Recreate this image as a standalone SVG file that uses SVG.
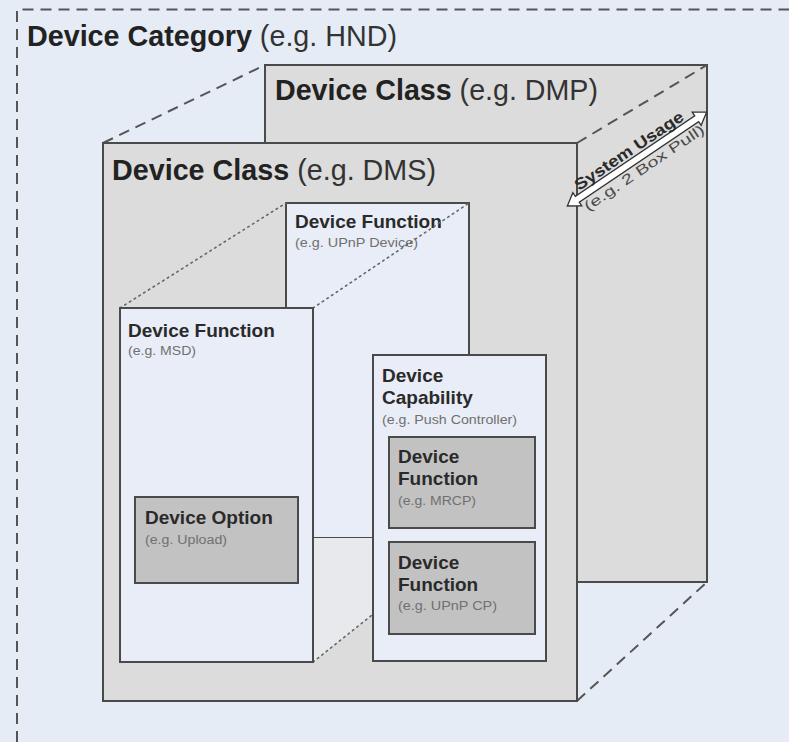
<svg xmlns="http://www.w3.org/2000/svg" width="789" height="742" viewBox="0 0 789 742">
<style>
.bg{fill:#E6ECF6}
.cls{fill:#DCDCDC;stroke:#4A4A4A;stroke-width:2}
.fn{fill:#E8EDF7;stroke:#4A4A4A;stroke-width:2}
.opt{fill:#C2C2C2;stroke:#4A4A4A;stroke-width:2}
.dash{fill:none;stroke:#555;stroke-width:2;stroke-dasharray:11 7}
.dot{fill:none;stroke:#666;stroke-width:1.6;stroke-dasharray:1.6 4;stroke-linecap:round}
text{font-family:"Liberation Sans",Arial,sans-serif}
.big{font-size:30px;fill:#222}
.b{font-weight:bold}
.r{fill:#333}
.h{font-size:19px;font-weight:bold;fill:#2A2A2A}
.s{font-size:12px;fill:#707070}
</style>
<defs>
<clipPath id="dmpClip"><rect x="265" y="65" width="442" height="517"/></clipPath>
</defs>
<rect class="bg" x="0" y="0" width="789" height="742"/>
<g id="category">
<path class="dash" d="M17 742 V9.5 H789"/>
<text class="big" x="27" y="46" textLength="370" lengthAdjust="spacingAndGlyphs"><tspan class="b">Device Category</tspan><tspan class="r"> (e.g. HND)</tspan></text>
</g>
<g id="class-dmp">
<rect class="cls" x="265" y="65" width="442" height="517"/>
<text class="big" x="275" y="100" textLength="323" lengthAdjust="spacingAndGlyphs"><tspan class="b">Device Class</tspan><tspan class="r"> (e.g. DMP)</tspan></text>
</g>
<g id="connectors">
<line class="dash" x1="103" y1="143" x2="265" y2="65"/>
<line class="dash" x1="577" y1="143" x2="707" y2="65"/>
<line class="dash" x1="577" y1="701" x2="707" y2="582"/>
</g>
<g id="class-dms">
<rect class="cls" x="103" y="143" width="474" height="558"/>
<text class="big" x="112" y="180" textLength="324" lengthAdjust="spacingAndGlyphs"><tspan class="b">Device Class</tspan><tspan class="r"> (e.g. DMS)</tspan></text>
</g>
<g id="function-upnp-device">
<rect class="fn" x="286" y="203" width="183" height="335"/>
<text class="h" x="295" y="228">Device Function</text>
<text class="s" x="295" y="247" textLength="123" lengthAdjust="spacingAndGlyphs">(e.g. UPnP Device)</text>
</g>
<g id="side-face">
<polygon points="313,538 373,538 373,615 313,662" fill="#E8E9EC"/>
</g>
<g id="dotted-connectors">
<line class="dot" x1="120" y1="308" x2="286" y2="203"/>
<line class="dot" x1="313" y1="308" x2="469" y2="203"/>
<line class="dot" x1="313" y1="662" x2="469" y2="538"/>
</g>
<g id="function-msd">
<rect class="fn" x="120" y="308" width="193" height="354"/>
<text class="h" x="128" y="337">Device Function</text>
<text class="s" x="128" y="355" textLength="68" lengthAdjust="spacingAndGlyphs">(e.g. MSD)</text>
</g>
<g id="option-upload">
<rect class="opt" x="135" y="497" width="163" height="86"/>
<text class="h" x="145" y="524">Device Option</text>
<text class="s" x="145" y="544" textLength="82" lengthAdjust="spacingAndGlyphs">(e.g. Upload)</text>
</g>
<g id="capability-push">
<rect class="fn" x="373" y="355" width="173" height="306"/>
<text class="h" x="382" y="382">Device</text>
<text class="h" x="382" y="404">Capability</text>
<text class="s" x="382" y="424" textLength="135" lengthAdjust="spacingAndGlyphs">(e.g. Push Controller)</text>
</g>
<g id="function-mrcp">
<rect class="opt" x="389" y="437" width="146" height="91"/>
<text class="h" x="398" y="463">Device</text>
<text class="h" x="398" y="485">Function</text>
<text class="s" x="398" y="505" textLength="78" lengthAdjust="spacingAndGlyphs">(e.g. MRCP)</text>
</g>
<g id="function-upnp-cp">
<rect class="opt" x="389" y="542" width="146" height="92"/>
<text class="h" x="398" y="569">Device</text>
<text class="h" x="398" y="591">Function</text>
<text class="s" x="398" y="610" textLength="99" lengthAdjust="spacingAndGlyphs">(e.g. UPnP CP)</text>
</g>
<g id="system-usage" clip-path="url(#dmpClip)">
<g transform="translate(637,159) rotate(-34)">
<path d="M-84 0 L-72 -8 L-72 -3.5 L72 -3.5 L72 -8 L84 0 L72 8 L72 3.5 L-72 3.5 L-72 8 Z" fill="#FFFFFF" stroke="#333" stroke-width="1.3" stroke-linejoin="miter"/>
<text x="-66" y="-6" font-size="16" font-weight="bold" fill="#2A2A2A" textLength="128" lengthAdjust="spacingAndGlyphs">System Usage</text>
<text x="-70" y="16" font-size="14" fill="#4A4A4A" textLength="142" lengthAdjust="spacingAndGlyphs">(e.g. 2 Box Pull)</text>
</g>
</g>
</svg>
